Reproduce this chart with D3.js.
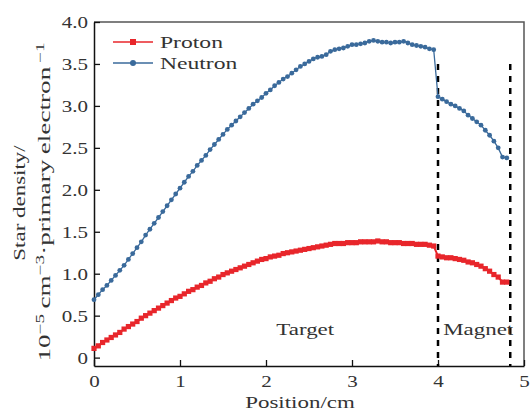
<!DOCTYPE html>
<html>
<head>
<meta charset="utf-8">
<script src="https://cdn.jsdelivr.net/npm/d3@7"></script>
<style>
  body { margin: 0; background: #fff; }
  svg text { font-family: "Liberation Serif", "Times New Roman", serif; fill: #333; }
</style>
</head>
<body>
<svg id="chart" width="532" height="412"></svg>
<script>
// positions along the beam (cm)
var positions = [0.00,0.05,0.10,0.15,0.20,0.25,0.30,0.35,0.40,0.45,0.50,0.55,0.60,0.65,0.70,0.75,0.80,0.85,0.90,0.95,
  1.00,1.05,1.10,1.15,1.20,1.25,1.30,1.35,1.40,1.45,1.50,1.55,1.60,1.65,1.70,1.75,1.80,1.85,1.90,1.95,
  2.00,2.05,2.10,2.15,2.20,2.25,2.30,2.35,2.40,2.45,2.50,2.55,2.60,2.65,2.70,2.75,2.80,2.85,2.90,2.95,
  3.00,3.05,3.10,3.15,3.20,3.25,3.30,3.35,3.40,3.45,3.50,3.55,3.60,3.65,3.70,3.75,3.80,3.85,3.90,3.95,
  4.00,4.05,4.10,4.15,4.20,4.25,4.30,4.35,4.40,4.45,4.50,4.55,4.60,4.65,4.70,4.75,4.80];

var proton = [0.11,0.14,0.18,0.21,0.24,0.27,0.30,0.34,0.37,0.40,0.43,0.47,0.50,0.53,0.56,0.59,0.62,0.65,0.68,0.71,
  0.73,0.76,0.79,0.81,0.84,0.86,0.89,0.91,0.94,0.96,0.99,1.01,1.03,1.05,1.07,1.09,1.11,1.13,1.15,1.17,
  1.18,1.20,1.21,1.22,1.24,1.25,1.26,1.27,1.28,1.29,1.30,1.31,1.32,1.33,1.34,1.35,1.36,1.36,1.36,1.37,
  1.37,1.37,1.38,1.38,1.38,1.38,1.39,1.38,1.38,1.37,1.37,1.37,1.36,1.36,1.36,1.35,1.35,1.35,1.34,1.33,
  1.21,1.20,1.19,1.19,1.18,1.17,1.16,1.14,1.13,1.11,1.09,1.06,1.03,0.99,0.96,0.90,0.90];

var neutron = [0.69,0.75,0.81,0.86,0.92,0.98,1.04,1.10,1.17,1.24,1.31,1.38,1.46,1.53,1.60,1.67,1.74,1.81,1.88,1.95,
  2.02,2.09,2.16,2.22,2.29,2.35,2.41,2.48,2.54,2.60,2.66,2.72,2.77,2.82,2.87,2.92,2.97,3.02,3.06,3.10,
  3.15,3.19,3.24,3.28,3.32,3.35,3.39,3.43,3.47,3.50,3.53,3.56,3.58,3.59,3.61,3.65,3.67,3.68,3.69,3.71,
  3.73,3.73,3.74,3.75,3.77,3.78,3.77,3.76,3.76,3.75,3.76,3.76,3.77,3.75,3.73,3.72,3.71,3.70,3.68,3.67,
  3.11,3.08,3.05,3.02,3.00,2.97,2.94,2.89,2.85,2.81,2.77,2.71,2.65,2.58,2.50,2.39,2.38];

var xTicks = [0, 1, 2, 3, 4, 5];
var yTicks = [0, 0.5, 1.0, 1.5, 2.0, 2.5, 3.0, 3.5, 4.0];
var boundaries = [4.0, 4.84];   // target / magnet edges
var boundaryTop = 3.5;
var regions = [{name: "Target", x: 2.12}, {name: "Magnet", x: 4.06}];

var red = "#e8262b", blue = "#3a6a9b";
var stretch = 1.35;   // reference type is wide, Times is narrow

var svg = d3.select("#chart"),
    margin = {top: 22, right: 8, bottom: 46, left: 94},
    width = +svg.attr("width") - margin.left - margin.right,
    height = +svg.attr("height") - margin.top - margin.bottom;

var x = d3.scaleLinear().domain([0, 5]).range([0, width]),
    y = d3.scaleLinear().domain([-0.1, 4.0]).range([height, 0]);

var g = svg.append("g")
    .attr("transform", "translate(" + margin.left + "," + margin.top + ")");

// frame (top/right)
g.append("path")
    .attr("d", "M0,0H" + width + "V" + height)
    .attr("fill", "none")
    .attr("stroke", "#555")
    .attr("stroke-width", 1.5);

var xAxis = g.append("g")
    .attr("transform", "translate(0," + height + ")")
    .call(d3.axisBottom(x).tickValues(xTicks).tickSizeInner(-6).tickSizeOuter(0).tickPadding(9)
      .tickFormat(d3.format("d")));

var yAxis = g.append("g")
    .call(d3.axisLeft(y).tickValues(yTicks).tickSizeInner(-6).tickSizeOuter(0).tickPadding(5)
      .tickFormat(function(d) { return d === 0 ? "0" : d3.format(".1f")(d); }));

[xAxis, yAxis].forEach(function(a) {
  a.select(".domain").attr("stroke", "#111").attr("stroke-width", 1.5);
  a.selectAll(".tick line").attr("stroke", "#111").attr("stroke-width", 1.3);
  a.selectAll(".tick text")
    .style("font-family", "Liberation Serif")
    .style("font-size", "17.5px")
    .attr("fill", "#333")
    .attr("transform", "scale(1.2,1)");
});

// region boundaries
g.selectAll(".boundary")
    .data(boundaries)
    .enter().append("line")
    .attr("x1", function(d) { return x(d); })
    .attr("x2", function(d) { return x(d); })
    .attr("y1", y(boundaryTop))
    .attr("y2", height)
    .attr("stroke", "#000")
    .attr("stroke-width", 2.5)
    .attr("stroke-dasharray", "6,6");

g.selectAll(".region")
    .data(regions)
    .enter().append("text")
    .attr("transform", function(d) { return "translate(" + x(d.x) + "," + (height - 31) + ") scale(" + stretch + ",1)"; })
    .style("font-size", "17px")
    .text(function(d) { return d.name; });

var line = d3.line()
    .x(function(d, i) { return x(positions[i]); })
    .y(function(d) { return y(d); });

g.append("path").datum(proton)
    .attr("fill", "none").attr("stroke", red).attr("stroke-width", 2)
    .attr("d", line);

g.selectAll(".psq")
    .data(proton)
    .enter().append("rect")
    .attr("x", function(d, i) { return x(positions[i]) - 2.6; })
    .attr("y", function(d) { return y(d) - 2.6; })
    .attr("width", 5.2).attr("height", 5.2)
    .attr("fill", red);

g.append("path").datum(neutron)
    .attr("fill", "none").attr("stroke", blue).attr("stroke-width", 1.3)
    .attr("d", line);

g.selectAll(".ndot")
    .data(neutron)
    .enter().append("circle")
    .attr("cx", function(d, i) { return x(positions[i]); })
    .attr("cy", function(d) { return y(d); })
    .attr("r", 2.4)
    .attr("fill", blue);

// legend
var legend = [{name: "Proton", color: red, sq: true}, {name: "Neutron", color: blue, sq: false}];
var lg = svg.append("g").attr("transform", "translate(113,42)");
legend.forEach(function(d, i) {
  var row = lg.append("g").attr("transform", "translate(0," + (i * 21) + ")");
  row.append("line").attr("x1", 0).attr("x2", 40).attr("stroke", d.color).attr("stroke-width", 1.3);
  if (d.sq) row.append("rect").attr("x", 17).attr("y", -3).attr("width", 6).attr("height", 6).attr("fill", d.color);
  else row.append("circle").attr("cx", 20).attr("r", 3).attr("fill", d.color);
  row.append("text").attr("transform", "translate(47,6) scale(" + stretch + ",1)")
    .style("font-size", "17.5px").text(d.name);
});

// axis titles
svg.append("text")
    .attr("transform", "translate(300,408) scale(" + stretch + ",1)")
    .attr("text-anchor", "middle")
    .style("font-size", "17px")
    .text("Position/cm");

svg.append("text")
    .attr("transform", "translate(25,203) rotate(-90) scale(" + stretch + ",1)")
    .attr("text-anchor", "middle")
    .style("font-size", "17px")
    .text("Star density/");

var parts = [["10", ""], ["\u22125", "sup"], ["\u2009cm", ""], ["\u22123", "sup"], ["\u00b7primary\u2009electron", ""], ["\u2009\u22121", "sup"]];
var t2 = svg.append("text")
    .attr("transform", "translate(50,202) rotate(-90) scale(1.6,1)")
    .attr("text-anchor", "middle")
    .style("font-size", "17px");
parts.forEach(function(p) {
  var s = t2.append("tspan").text(p[0]);
  if (p[1] === "sup") s.attr("baseline-shift", "super").style("font-size", "12px");
});
</script>
</body>
</html>
